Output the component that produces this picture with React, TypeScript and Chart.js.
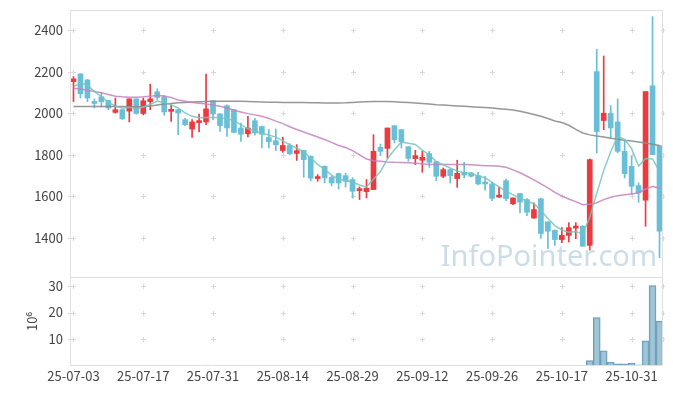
import { useEffect, useRef } from 'react';
import { Chart, registerables } from 'chart.js';

Chart.register(...registerables);

const dates = [
  '25-07-03','25-07-04','25-07-07','25-07-08','25-07-09','25-07-10','25-07-11','25-07-14','25-07-15','25-07-16',
  '25-07-17','25-07-18','25-07-21','25-07-22','25-07-23','25-07-24','25-07-25','25-07-28','25-07-29','25-07-30',
  '25-07-31','25-08-01','25-08-04','25-08-05','25-08-06','25-08-07','25-08-08','25-08-11','25-08-12','25-08-13',
  '25-08-14','25-08-18','25-08-19','25-08-20','25-08-21','25-08-22','25-08-25','25-08-26','25-08-27','25-08-28',
  '25-08-29','25-09-01','25-09-02','25-09-03','25-09-04','25-09-05','25-09-08','25-09-09','25-09-10','25-09-11',
  '25-09-12','25-09-15','25-09-16','25-09-17','25-09-18','25-09-19','25-09-22','25-09-23','25-09-24','25-09-25',
  '25-09-26','25-09-29','25-09-30','25-10-01','25-10-02','25-10-10','25-10-13','25-10-14','25-10-15','25-10-16',
  '25-10-17','25-10-20','25-10-21','25-10-22','25-10-23','25-10-24','25-10-27','25-10-28','25-10-29','25-10-30',
  '25-10-31','25-11-03','25-11-04','25-11-05','25-11-06'
];

const opens = [
  2152,2189,2160,2055,2079,2061,2004,2017,2010,2069,
  1999,2056,2103,2079,2009,2017,1969,1924,1955,1958,
  2060,1997,2036,2017,1929,1901,1964,1936,1883,1868,
  1821,1845,1807,1821,1793,1686,1745,1692,1710,1700,
  1681,1628,1623,1633,1836,1831,1940,1921,1839,1782,
  1774,1806,1767,1697,1729,1686,1716,1713,1700,1663,
  1660,1597,1676,1565,1614,1585,1496,1589,1478,1437,
  1393,1413,1448,1457,1365,2200,1965,2000,1958,1817,
  1745,1652,1582,2132,1844
];
const highs = [
  2176,2190,2162,2069,2101,2062,2073,2017,2069,2069,
  2073,2140,2117,2085,2040,2017,1975,1969,1996,2188,
  2060,1997,2040,2017,1953,1985,1975,1938,1922,1924,
  1885,1854,1849,1822,1795,1705,1747,1697,1712,1712,
  1690,1646,1681,1897,1852,1929,1940,1921,1839,1822,
  1817,1817,1767,1737,1733,1774,1764,1716,1716,1697,
  1668,1644,1683,1593,1614,1590,1569,1592,1478,1440,
  1450,1474,1474,1460,1780,2307,2275,2037,2068,1865,
  1793,1665,2104,2464,1844
];
const lows = [
  2056,2073,2056,2025,2030,2017,2000,1970,1958,1995,
  1993,2017,2065,1990,1960,1897,1940,1884,1910,1945,
  1969,1913,1889,1905,1865,1886,1895,1833,1833,1820,
  1812,1800,1773,1692,1675,1673,1665,1651,1636,1645,
  1593,1585,1593,1633,1796,1785,1857,1833,1769,1753,
  1716,1740,1676,1690,1665,1644,1689,1694,1655,1630,
  1580,1595,1580,1560,1521,1508,1496,1398,1349,1365,
  1378,1381,1397,1361,1342,1809,1921,1881,1810,1689,
  1609,1572,1457,1801,1306
];
const closes = [
  2165,2093,2073,2047,2055,2025,2017,1973,2069,1999,
  2060,2069,2076,2006,2017,2001,1945,1958,1960,2021,
  1997,1941,1929,1908,1899,1929,1905,1899,1864,1849,
  1845,1805,1820,1777,1688,1690,1689,1665,1665,1673,
  1625,1632,1640,1817,1817,1929,1873,1862,1783,1796,
  1788,1764,1697,1729,1700,1711,1703,1697,1660,1660,
  1591,1601,1590,1593,1573,1524,1537,1422,1433,1393,
  1413,1450,1457,1361,1777,1912,2000,1929,1817,1710,
  1649,1617,2104,1801,1433
];

// volume, units of 10^6
const volumes = [
  0.08,0.12,0.07,0.05,0.06,0.05,0.04,0.06,0.07,0.05,
  0.06,0.09,0.05,0.06,0.05,0.07,0.05,0.06,0.08,0.32,
  0.1,0.07,0.06,0.07,0.05,0.05,0.04,0.05,0.05,0.04,
  0.05,0.05,0.04,0.06,0.08,0.04,0.05,0.04,0.05,0.04,
  0.06,0.05,0.05,0.35,0.12,0.15,0.1,0.06,0.06,0.05,
  0.04,0.05,0.06,0.05,0.04,0.06,0.04,0.04,0.05,0.04,
  0.05,0.04,0.05,0.04,0.05,0.06,0.05,0.12,0.3,0.08,
  0.06,0.05,0.06,0.08,2.0,18.1,5.7,1.5,0.8,0.8,
  1.1,0.4,9.4,30.1,16.8
];

const ma5 = [
  2128,2145,2136,2104,2080,2052,2035,2024,2028,2020,
  2030,2042,2058,2052,2040,2025,2002,1985,1978,1980,
  1980,1978,1975,1964,1945,1925,1913,1904,1895,1885,
  1867,1848,1833,1814,1785,1754,1730,1703,1683,1678,
  1668,1655,1646,1683,1720,1780,1824,1861,1856,1850,
  1823,1800,1768,1752,1737,1723,1714,1710,1698,1690,
  1668,1646,1625,1608,1592,1577,1565,1533,1494,1460,
  1439,1428,1431,1420,1500,1615,1725,1815,1888,1874,
  1830,1746,1782,1780,1721
];
const ma20 = [
  2120,2116,2110,2104,2098,2090,2082,2079,2077,2077,
  2079,2082,2085,2083,2076,2064,2058,2052,2048,2044,
  2040,2033,2025,2014,2006,1998,1992,1985,1975,1962,
  1950,1935,1922,1910,1898,1886,1874,1860,1845,1835,
  1820,1800,1780,1772,1769,1766,1764,1763,1762,1760,
  1757,1754,1753,1753,1753,1753,1753,1752,1750,1748,
  1747,1745,1740,1728,1714,1697,1680,1660,1641,1620,
  1602,1588,1575,1560,1562,1570,1585,1596,1604,1608,
  1612,1618,1636,1648,1641
];
const ma60 = [
  2032,2032,2032,2032,2032,2032,2032,2032,2031,2031,
  2031,2035,2040,2044,2047,2050,2052,2054,2055,2056,
  2057,2058,2058,2058,2057,2056,2055,2054,2053,2053,
  2052,2052,2052,2051,2050,2050,2049,2049,2049,2050,
  2052,2054,2055,2056,2056,2056,2055,2053,2051,2049,
  2047,2044,2041,2039,2037,2035,2033,2031,2029,2027,
  2025,2022,2019,2015,2009,2002,1994,1985,1975,1963,
  1955,1942,1922,1905,1896,1890,1886,1880,1875,1870,
  1866,1862,1857,1851,1845
];

const priceTicks = [1400, 1600, 1800, 2000, 2200, 2400];
const volumeTicks = [10, 20, 30];
const labelEvery = 10;

const UP = '#ec3a3f';
const DOWN = '#68bfd7';
const FONT = "'Noto Sans CJK KR', 'Noto Sans', sans-serif";
const TEXT = '#444';

const decorPlugin = {
  id: 'decor',
  beforeDatasetsDraw(chart: any) {
    const { ctx, chartArea, scales } = chart;
    const x = scales.x, y = scales.y, yv = scales.yv;
    ctx.save();
    ctx.font = "29px 'Noto Sans', sans-serif";
    ctx.fillStyle = 'rgba(172,200,218,0.62)';
    ctx.textAlign = 'right';
    ctx.textBaseline = 'alphabetic';
    ctx.fillText('InfoPointer.com', chartArea.right - 6, y.bottom - 11);

    const xs: number[] = [chartArea.left, chartArea.right];
    dates.forEach((_, i) => { if (i % labelEvery === 0) xs.push(x.getPixelForValue(i)); });
    const ys: number[] = [];
    priceTicks.forEach(v => ys.push(y.getPixelForValue(v)));
    volumeTicks.forEach(v => ys.push(yv.getPixelForValue(v)));
    ctx.fillStyle = '#d8d8d8';
    for (const px of xs) {
      for (const py of ys) {
        const cx = Math.round(px), cy = Math.round(py);
        ctx.fillRect(cx - 2, cy, 5, 1);
        ctx.fillRect(cx, cy - 2, 1, 5);
      }
    }
    ctx.restore();
  },
  afterDatasetsDraw(chart: any) {
    const { ctx, chartArea, scales } = chart;
    const y = scales.y, yv = scales.yv;
    ctx.save();
    ctx.strokeStyle = '#e0e0e0';
    ctx.lineWidth = 1;
    const l = Math.round(chartArea.left) + 0.5;
    const r = Math.round(chartArea.right) - 0.5;
    const t1 = Math.round(y.top) + 0.5, b1 = Math.round(y.bottom) + 0.5;
    const b2 = Math.round(yv.bottom) - 0.5;
    ctx.strokeRect(l, t1, r - l, b1 - t1);
    ctx.strokeRect(l, b1, r - l, b2 - b1);
    ctx.restore();
  },
};

const fitY = (s: any) => {
  s.width = 62;
  s.paddingTop = 0;
  s.paddingBottom = 0;
};

export default function App() {
  const ref = useRef<HTMLCanvasElement | null>(null);

  useEffect(() => {
    const colors = opens.map((o, i) => (closes[i] >= o ? UP : DOWN));
    const chart = new Chart(ref.current as HTMLCanvasElement, {
      type: 'bar',
      data: {
        labels: dates,
        datasets: [
          { type: 'line', label: 'MA5', data: ma5, yAxisID: 'y', borderColor: 'rgba(118,198,184,0.85)', borderWidth: 1.5, pointRadius: 0, tension: 0, order: 1 } as any,
          { type: 'line', label: 'MA20', data: ma20, yAxisID: 'y', borderColor: 'rgba(198,128,192,0.85)', borderWidth: 1.5, pointRadius: 0, tension: 0, order: 1 } as any,
          { type: 'line', label: 'MA60', data: ma60, yAxisID: 'y', borderColor: 'rgba(140,140,140,0.9)', borderWidth: 1.5, pointRadius: 0, tension: 0, order: 1 } as any,
          { type: 'bar', label: 'body', data: opens.map((o, i) => [o, closes[i]]), yAxisID: 'y', backgroundColor: colors, barThickness: 5, minBarLength: 2, grouped: false, borderWidth: 0, order: 2 } as any,
          { type: 'bar', label: 'wick', data: lows.map((l, i) => [l, highs[i]]), yAxisID: 'y', backgroundColor: colors, barThickness: 1, grouped: false, borderWidth: 0, order: 3 } as any,
          { type: 'bar', label: 'volume', data: volumes, yAxisID: 'yv', backgroundColor: 'rgba(136,182,204,0.8)', borderColor: '#6a9db7', borderWidth: 1, barPercentage: 1, categoryPercentage: 1, grouped: false, order: 4 } as any,
        ],
      },
      options: {
        animation: false,
        responsive: true,
        maintainAspectRatio: false,
        layout: { padding: { top: 2, right: 2, bottom: 1.4, left: 0 } },
        plugins: { legend: { display: false }, tooltip: { enabled: false } },
        scales: {
          x: {
            type: 'category',
            offset: true,
            grid: { display: false, drawTicks: false },
            border: { display: false },
            ticks: {
              autoSkip: false, maxRotation: 0, minRotation: 0, padding: 2, color: TEXT,
              font: { family: FONT, size: 13 },
              callback: (_v: any, i: number) => (i % labelEvery === 0 ? dates[i] : ''),
            },
            afterFit: (s: any) => { s.paddingLeft = 0; s.paddingRight = 0; },
          },
          yv: {
            type: 'linear', position: 'left', stack: 'main', stackWeight: 1,
            min: 0, max: 33.3,
            grid: { display: false, drawTicks: false },
            border: { display: false },
            ticks: {
              autoSkip: false, stepSize: 10, includeBounds: false, padding: 7, color: TEXT,
              font: { family: FONT, size: 13 },
              callback: (v: any) => (volumeTicks.includes(Number(v)) ? String(v) : ''),
            },
            title: { display: true, text: '10⁶', color: TEXT, font: { family: FONT, size: 13 }, padding: { top: 16, bottom: 0 } },
            afterFit: fitY,
          },
          y: {
            type: 'linear', position: 'left', stack: 'main', stackWeight: 3,
            min: 1213, max: 2496,
            grid: { display: false, drawTicks: false },
            border: { display: false },
            ticks: {
              autoSkip: false, stepSize: 200, includeBounds: false, padding: 7, color: TEXT,
              font: { family: FONT, size: 13 },
              callback: (v: any) => (priceTicks.includes(Number(v)) ? String(v) : ''),
            },
            afterFit: fitY,
          },
        },
      } as any,
      plugins: [decorPlugin],
    });
    return () => chart.destroy();
  }, []);

  return (
    <div style={{ position: 'relative', width: '100%', height: 379 }}>
      <canvas ref={ref} />
    </div>
  );
}
